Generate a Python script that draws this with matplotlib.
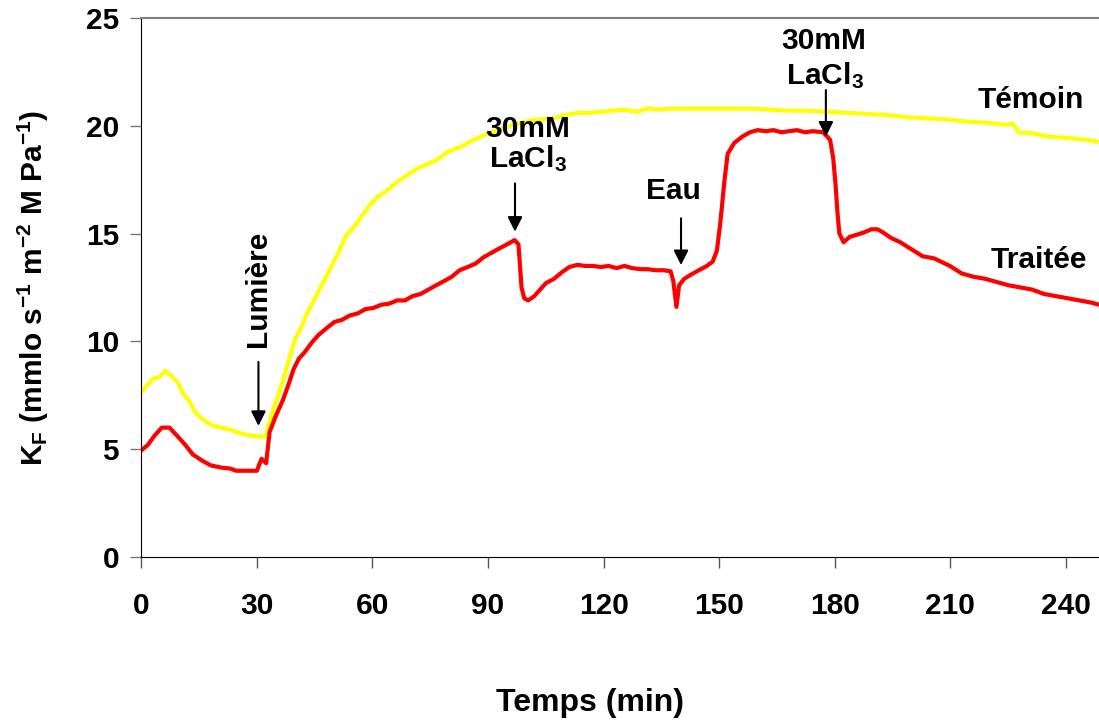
import matplotlib
matplotlib.use("Agg")
import matplotlib.pyplot as plt

# Temps (min) / K_F values
t_temoin = [0, 1.7, 3.3, 4.8, 6.2, 7.8, 9.4, 10.9, 12.4, 14.0, 15.5, 17.0, 18.5, 20.6, 23.1, 25.6,
            27.7, 29.7, 32.2, 33.8, 35.3, 36.8, 38.4, 39.9, 41.4, 43.0, 44.5, 46.5, 48.5, 51.1,
            53.1, 55.2, 57.2, 59.2, 61.3, 63.8, 66.4, 68.9, 71.5, 74.0, 76.5, 79.6, 82.6, 85.7,
            88.8, 91.8, 94.9, 97.9, 101.0, 104.0, 107.1, 110.1, 113.2, 116.2, 119.3, 122.3,
            125.4, 128.5, 131.5, 134.6, 137.6, 142.7, 147.8, 152.9, 158.0, 163.1, 168.2, 173.3,
            178.3, 183.4, 188.5, 193.6, 198.7, 203.8, 208.9, 214.0, 219.1, 224.2, 226.2, 227.7,
            231.3, 235.3, 239.4, 242.5, 245.5, 248.6]
k_temoin = [7.65, 8.0, 8.3, 8.35, 8.64, 8.4, 8.1, 7.55, 7.25, 6.7, 6.45, 6.25, 6.1, 6.0, 5.9, 5.75,
            5.65, 5.6, 5.58, 6.6, 7.4, 8.2, 9.2, 10.1, 10.6, 11.3, 11.8, 12.5, 13.2, 14.1, 14.9,
            15.3, 15.8, 16.3, 16.7, 17.0, 17.4, 17.7, 18.0, 18.2, 18.4, 18.8, 19.0, 19.3, 19.55,
            19.75, 19.95, 20.1, 20.25, 20.3, 20.35, 20.5, 20.6, 20.6, 20.65, 20.7, 20.75, 20.65,
            20.8, 20.75, 20.8, 20.8, 20.8, 20.8, 20.8, 20.75, 20.7, 20.7, 20.65, 20.6, 20.55,
            20.5, 20.4, 20.35, 20.3, 20.2, 20.15, 20.05, 20.1, 19.7, 19.65, 19.5, 19.45, 19.4,
            19.35, 19.25]

t_traitee = [0, 1.7, 3.3, 5.3, 7.3, 9.4, 11.4, 13.4, 15.5, 18.0, 20.6, 23.1, 24.6, 27.7, 30.0,
             31.2, 32.4, 33.3, 34.8, 36.8, 38.4, 39.5, 40.9, 42.4, 44.5, 46.0, 48.0, 50.1, 52.1,
             54.1, 56.2, 58.2, 60.2, 62.3, 64.3, 66.4, 68.4, 70.4, 72.5, 74.5, 76.5, 78.6, 80.6,
             82.6, 84.7, 86.7, 88.8, 90.8, 92.8, 94.9, 96.9, 97.9, 98.7, 99.4, 100.4, 102.0,
             103.5, 105.0, 107.1, 109.1, 111.1, 113.2, 115.2, 117.2, 119.3, 121.3, 123.4, 125.4,
             127.4, 129.5, 131.5, 133.5, 135.6, 137.4, 138.1, 138.9, 139.6, 140.9, 142.7, 144.7,
             146.8, 148.3, 149.4, 150.3, 151.4, 152.2, 153.9, 156.0, 158.0, 160.0, 162.1, 164.1,
             166.1, 168.2, 170.2, 172.2, 174.3, 177.0, 178.8, 179.6, 180.2, 180.7, 181.2, 182.3,
             183.9, 185.8, 187.5, 189.5, 191.1, 192.6, 194.6, 197.0, 199.7, 202.8, 205.8, 209.9,
             213.0, 216.0, 219.1, 222.1, 225.2, 228.2, 231.3, 234.3, 237.4, 240.4, 243.5, 246.6,
             248.6]
k_traitee = [4.95, 5.2, 5.6, 6.0, 6.0, 5.6, 5.2, 4.75, 4.5, 4.25, 4.15, 4.1, 4.0, 4.0, 4.0, 4.55,
             4.35, 5.8, 6.5, 7.3, 8.1, 8.7, 9.2, 9.5, 10.0, 10.3, 10.6, 10.9, 11.0, 11.2, 11.3,
             11.5, 11.55, 11.7, 11.75, 11.9, 11.9, 12.1, 12.2, 12.4, 12.6, 12.8, 13.0, 13.3,
             13.45, 13.6, 13.9, 14.1, 14.3, 14.5, 14.7, 14.5, 12.5, 12.0, 11.9, 12.1, 12.4, 12.7,
             12.9, 13.2, 13.45, 13.55, 13.5, 13.5, 13.45, 13.5, 13.4, 13.5, 13.4, 13.35, 13.35,
             13.3, 13.3, 13.25, 12.8, 11.6, 12.6, 12.9, 13.1, 13.3, 13.5, 13.7, 14.2, 15.5, 17.5,
             18.7, 19.2, 19.5, 19.7, 19.8, 19.75, 19.8, 19.7, 19.75, 19.8, 19.7, 19.75, 19.7,
             19.35, 18.5, 17.3, 16.0, 15.0, 14.6, 14.85, 14.95, 15.05, 15.2, 15.2, 15.05, 14.8,
             14.6, 14.3, 13.95, 13.85, 13.5, 13.15, 13.0, 12.9, 12.75, 12.6, 12.5, 12.4, 12.2,
             12.1, 12.0, 11.9, 11.8, 11.7]

x_ticks = [0, 30, 60, 90, 120, 150, 180, 210, 240]
y_ticks = [0, 5, 10, 15, 20, 25]

plt.rcParams["font.family"] = ["Liberation Sans", "DejaVu Sans"]
plt.rcParams["font.weight"] = "bold"
plt.rcParams["mathtext.default"] = "regular"

fig = plt.figure(figsize=(10.99, 7.24), dpi=100)
ax = fig.add_axes([0.1286, 0.2307, 0.8714, 0.7444])

ax.plot(t_temoin, k_temoin, color="#FFFF00", lw=3, solid_joinstyle="round")
ax.plot(t_traitee, k_traitee, color="#FF0000", lw=3, solid_joinstyle="round")

ax.set_xlim(0, 248.6)
ax.set_ylim(0, 25)
ax.set_xticks(x_ticks)
ax.set_yticks(y_ticks)
ax.tick_params(axis="x", direction="out", length=8, width=1, color="#555555", pad=17, labelsize=21.5)
ax.tick_params(axis="y", direction="out", length=8, width=1, color="#777777", pad=8, labelsize=21.5)
for lab in ax.get_xticklabels() + ax.get_yticklabels():
    lab.set_fontweight("bold")

ax.spines["right"].set_visible(False)
ax.spines["top"].set_color("#808080")
ax.spines["top"].set_linewidth(1.5)
ax.spines["left"].set_color("black")
ax.spines["bottom"].set_color("black")

ax.set_xlabel("Temps (min)", fontsize=23, fontweight="bold", labelpad=49)
ax.xaxis.label.set_x(0.4685)
ax.set_ylabel(r"K$_{F}$ (mmlo s$^{-1}$ m$^{-2}$ M Pa$^{-1}$)", fontsize=21.5, fontweight="bold", labelpad=25)

fs = 21.5
arrow = dict(arrowstyle="-|>", color="black", lw=1.5, mutation_scale=22, shrinkA=0, shrinkB=0)
ax.annotate("", xy=(30.4, 6.08), xytext=(30.4, 9.05), arrowprops=arrow)
ax.text(30.4, 12.45, "Lumière", rotation=90, ha="center", va="center", fontsize=fs, fontweight="bold")

ax.annotate("", xy=(97.0, 15.09), xytext=(97.0, 17.33), arrowprops=arrow)
ax.text(100.4, 19.48, "30mM", ha="center", va="baseline", fontsize=fs, fontweight="bold")
ax.text(100.4, 18.07, r"LaCl$_{3}$", ha="center", va="baseline", fontsize=fs, fontweight="bold")

ax.annotate("", xy=(140.1, 13.54), xytext=(140.1, 15.71), arrowprops=arrow)
ax.text(138.1, 16.6, "Eau", ha="center", va="baseline", fontsize=fs, fontweight="bold")

ax.annotate("", xy=(177.7, 19.5), xytext=(177.7, 21.66), arrowprops=arrow)
ax.text(177.2, 23.55, "30mM", ha="center", va="baseline", fontsize=fs, fontweight="bold")
ax.text(177.5, 21.94, r"LaCl$_{3}$", ha="center", va="baseline", fontsize=fs, fontweight="bold")

ax.text(230.9, 20.81, "Témoin", ha="center", va="baseline", fontsize=fs, fontweight="bold")
ax.text(232.9, 13.39, "Traitée", ha="center", va="baseline", fontsize=fs, fontweight="bold")

fig.savefig("out.png", dpi=100)
